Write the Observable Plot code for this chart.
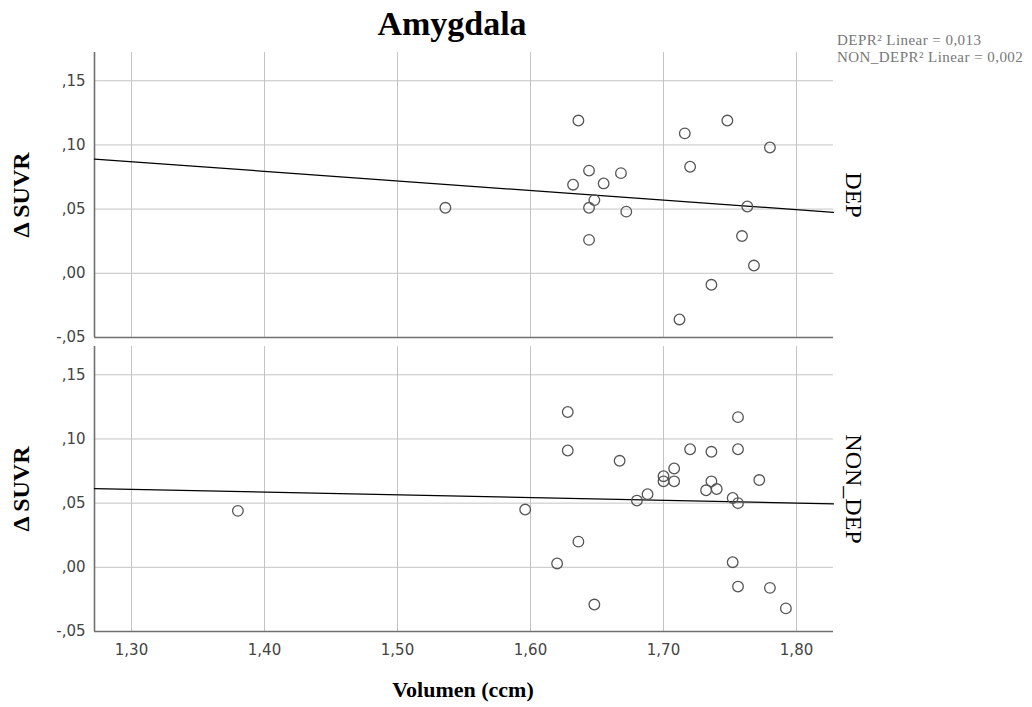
<!DOCTYPE html>
<html>
<head>
<meta charset="utf-8">
<script src="https://cdn.jsdelivr.net/npm/d3@7"></script>
<script src="https://cdn.jsdelivr.net/npm/@observablehq/plot@0.6"></script>
<style>
  html, body { margin: 0; padding: 0; background: #fff; }
  #wrap { position: relative; width: 1032px; height: 707px; overflow: hidden; }
  #chart { position: absolute; left: 0; top: 0; }
  .title { position: absolute; left: 352px; width: 200px; top: 5px; text-align: center;
           font: bold 34px "Liberation Serif", "DejaVu Serif", serif; color: #000; }
  .legend { position: absolute; left: 837px; top: 32px; font: 15px "Liberation Serif", serif;
            color: #777; line-height: 17px; letter-spacing: 0.45px; white-space: nowrap; }
  .xlabel { position: absolute; left: 363px; width: 200px; top: 677px; text-align: center;
            font: bold 22px "Liberation Serif", serif; color: #000; }
</style>
</head>
<body>
<div id="wrap">
  <div id="chart"></div>
  <div class="title">Amygdala</div>
  <div class="legend">DEPR² Linear = 0,013<br>NON_DEPR² Linear = 0,002</div>
  <div class="xlabel">Volumen (ccm)</div>
</div>
<script>
// ---- data ----
const groups = ["DEP", "NON_DEP"];

const depVolume = [1.536, 1.636, 1.644, 1.632, 1.655, 1.668, 1.648, 1.644, 1.672, 1.644,
                   1.716, 1.748, 1.780, 1.720, 1.763, 1.759, 1.768, 1.736, 1.712];
const depSUVR   = [0.051, 0.119, 0.080, 0.069, 0.070, 0.078, 0.057, 0.051, 0.048, 0.026,
                   0.109, 0.119, 0.098, 0.083, 0.052, 0.029, 0.006, -0.009, -0.036];

const nonVolume = [1.380, 1.596, 1.628, 1.628, 1.667, 1.636, 1.620, 1.648, 1.680, 1.688,
                   1.700, 1.700, 1.708, 1.708, 1.720, 1.736, 1.736, 1.732, 1.740, 1.756,
                   1.756, 1.772, 1.752, 1.756, 1.752, 1.756, 1.780, 1.792];
const nonSUVR   = [0.044, 0.045, 0.121, 0.091, 0.083, 0.020, 0.003, -0.029, 0.052, 0.057,
                   0.071, 0.067, 0.077, 0.067, 0.092, 0.090, 0.067, 0.060, 0.061, 0.117,
                   0.092, 0.068, 0.054, 0.050, 0.004, -0.015, -0.016, -0.032];

// linear fit lines (intercept, slope) per group
const fitIntercepts = [0.184, 0.0886];
const fitSlopes     = [-0.0747, -0.0214];

const xDomain = [1.2722, 1.8278];
const yDomain = [-0.05, 0.172];
const xTicks = [1.30, 1.40, 1.50, 1.60, 1.70, 1.80];
const yTicks = [-0.05, 0.00, 0.05, 0.10, 0.15];

// ---- build tables ----
const points = [
  ...depVolume.map((v, i) => ({group: "DEP", vol: v, suvr: depSUVR[i]})),
  ...nonVolume.map((v, i) => ({group: "NON_DEP", vol: nonVolume[i], suvr: nonSUVR[i]}))
];
const fits = groups.flatMap((g, i) => xDomain.map(x => ({group: g, vol: x, suvr: fitIntercepts[i] + fitSlopes[i] * x})));

const fmtX = d => d3.format(".2f")(d).replace(".", ",");
const fmtY = d => d3.format(".2f")(d).replace("−", "-").replace("0.", ",");

const serif = "Liberation Serif, DejaVu Serif, serif";

const chart = Plot.plot({
  width: 1032,
  height: 707,
  marginLeft: 94,
  marginRight: 199,
  marginTop: 52,
  marginBottom: 76,
  style: {fontFamily: "DejaVu Sans, sans-serif", fontSize: "15px", color: "#444", background: "white", overflow: "visible"},
  x: {domain: xDomain},
  y: {domain: yDomain},
  fy: {domain: groups, paddingInner: 0.031, paddingOuter: 0, round: false, axis: null, label: null},
  marks: [
    Plot.gridX({ticks: xTicks, stroke: "#c4c4c4", strokeOpacity: 1, strokeWidth: 1}),
    Plot.gridY({ticks: yTicks, stroke: "#c4c4c4", strokeOpacity: 1, strokeWidth: 1}),
    Plot.ruleX([xDomain[0]], {stroke: "#707070", strokeWidth: 1.6}),
    Plot.ruleY([yDomain[0]], {stroke: "#707070", strokeWidth: 1.6}),
    Plot.axisY({ticks: yTicks, tickFormat: fmtY, tickSize: 0, tickPadding: 9, label: null, fontSize: 15, fill: "#444"}),
    Plot.axisX({ticks: xTicks, tickFormat: fmtX, tickSize: 0, tickPadding: 13, label: null, fontSize: 15, fill: "#444"}),
    Plot.line(fits, {x: "vol", y: "suvr", fy: "group", z: "group", stroke: "#000", strokeWidth: 1.2}),
    Plot.dot(points, {x: "vol", y: "suvr", fy: "group", r: 5.3, stroke: "#555", strokeWidth: 1.3, fill: "none"}),
    Plot.text(groups, {fy: d => d, text: d => d, frameAnchor: "right", rotate: 90, dx: 20,
                       fontSize: 24, fontFamily: serif, fill: "#000", textAnchor: "middle"}),
    Plot.text(groups, {fy: d => d, text: () => "Δ SUVR", frameAnchor: "left", rotate: -90, dx: -73,
                       fontSize: 24, fontWeight: "bold", fontFamily: serif, fill: "#000", textAnchor: "middle"})
  ]
});
document.getElementById("chart").appendChild(chart);
</script>
</body>
</html>
